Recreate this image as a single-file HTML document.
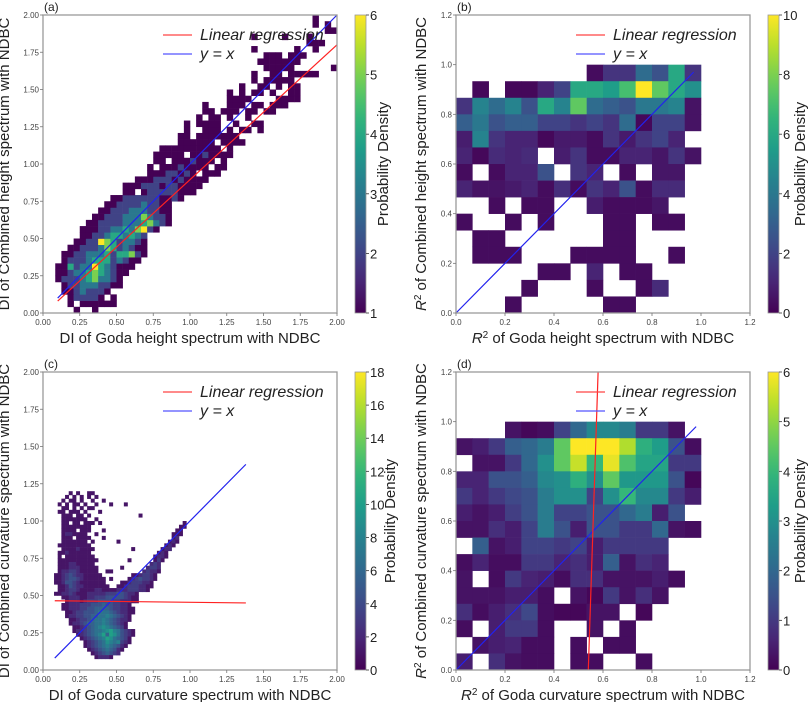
<!DOCTYPE html>
<html><head><meta charset="utf-8"><style>
html,body{margin:0;padding:0;background:#fff;}
svg{display:block;font-family:"Liberation Sans",sans-serif;}
</style></head><body>
<svg id="fig" width="809" height="702" viewBox="0 0 809 702" xmlns="http://www.w3.org/2000/svg"></svg>
<script>
// ---------- DATA ----------
// panel (a): DI height histogram, bin = 2/48, rows from bottom, "startCol:densities" (1..6, '.'=empty)
const rowsA = ["5:1 8:1","4:1 6:111111","4:122221 11:1","3:11232221","3:1223332211","2:12223453321","2:112334543211","2:1142336432111","3:1222344423211","3:11223334244521","4:1122235423211","5:112265423321","6:11223443432","6:1112233435621","7:11222233345321","8:1122233353221","9:112223332211","10:11222232211","11:112222221121","13:11.122222111","13:1112221221111","15:111222121111","17:11122121.111","17:1.11121111.11","18:11.1112111.1","18:11111.1121111","19:1111111111.1","22:111111.1111","22:11.1111111","23:1..111.1.11.1","23:1.1111..1..11","25:1.11.1..1","26:11.111.11.11","26:1...111.11.111","30:1111....1111","30:1.1.11.1..11","32:1..11.1.11","34:1.11111","34:1..11.11111","36:11111 47:1","35:1111111","36:111.111","34:1 41:1 44:1","43:111","34:1 39:1 43:1","46:11","44:1 46:1","44:1"];
// panel (c): DI curvature histogram, bin = 0.025, density digits, keyed by row index
const rowIdxC = [47,46,45,44,43,42,41,40,39,38,37,36,35,34,33,32,31,30,29,28,27,26,25,24,23,22,21,20,19,18,17,16,15,14,13,12,11,10,9,8,7,6,5,4,3];
const rowsC = ["7:1 9:1 12:11","6:1 8:1 10:1 12:1 14:1","5:1 7:11 10:1 13:1 16:1","4:1 6:1 8:11 11:1 14:1 18:1 22:1","5:11 8:1 10:1 12:11","4:11 7:111 11:1 15:1","5:111 9:11 12:1 26:1","5:1111111 14:1","5:11 8:11 11:111 15:1 38:1","5:11111111 37:11","5:1111 10:111 16:1 36:11","5:1221111 14:1 35:111","5:111 9:1111 16:1 35:12","5:1111111 13:1 20:1 34:121","4:111111111 33:121","5:111121111 24:1 32:122","4:112111111 31:121","4:1 6:11111111 30:1221","4:11111111111 23:1 30:131","4:1112211111 29:232","4:11122211111 21:1 28:2332","4:12233211111 17:11 27:23221","3:1123432211111 24:11 26:23321","3:11234432111111 18:1 23:12343321","3:11244321111111 21:112333221","4:11243221111111 20:1123332211","4:1123321111221111222333221","3:11223211122222333443221","5:112221122333444443211","6:12221233344443322211","5:1122233344454433221","5:11222334455554332211","6:1123344456665432211","6:122334455667654321","7:11233456676543221","7:1223455667654321","8:112345678765431","8:12234566789764321","9:1234567959864321","10:12345679865431","11:1234568767321","11:123456765421","12:1234565421","13:12345432","14:12221"];
// panel (b): R2 height histogram, 15x15, top row first, -1 = empty
const gridB = [
[-1,-1,-1,-1,-1,-1,-1,-1,0.3,1.5,1.5,3.5,2.5,6,1.5],
[-1,0.2,-1,0.2,0.2,1,2,6,6,5.5,7,10,7.5,6,5],
[1.5,4.5,3.5,4.5,2.5,6,4.5,7.5,3.5,3,2.5,4,4,4.5,0.5],
[3,4,2.5,3,3,2,2,1.5,2,1.5,3.5,0.2,2,2,0.5],
[0.8,4.5,1.5,1,1,0.2,0.7,0.7,0.3,1.5,0.7,1.5,2,1,-1],
[1,0.2,1.2,1,1.2,-1,0.8,1.5,0.3,0.3,1,1,0.6,1.5,0.5],
[0.3,-1,0.3,1,1,2.5,-1,1.5,1,-1,0.3,-1,0.6,0.6,-1],
[1,0.5,0.5,0.7,1,0.3,1.3,0.3,1.5,1,2.5,0.3,1.2,1.2,-1],
[-1,-1,0.3,-1,0.3,0.3,-1,-1,0.8,0.3,0.3,0.3,0.6,-1,-1],
[0.3,-1,-1,0.3,-1,0.3,-1,-1,-1,0.3,0.3,-1,0.3,0.3,-1],
[-1,0.3,0.3,-1,-1,-1,-1,-1,-1,0.3,0.3,-1,-1,-1,-1],
[-1,0.3,0.3,0.3,-1,-1,-1,0.3,0.3,0.3,0.3,-1,-1,0.3,-1],
[-1,-1,-1,-1,-1,0.3,0.3,-1,1,-1,0.3,0.3,-1,-1,-1],
[-1,-1,-1,-1,0.3,-1,-1,-1,0.3,-1,-1,0.3,1.2,-1,-1],
[-1,-1,-1,0.3,-1,-1,-1,-1,-1,0.3,0.3,-1,-1,-1,-1]];
// panel (d): R2 curvature histogram
const gridD = [
[-1,-1,-1,0.3,0.1,0.2,1.2,2,2.8,2.8,2.5,1,1,0.3,-1],
[0.3,0.5,1,1.8,2,2.5,4.5,6,6,6,5.3,3.8,3.3,1.5,0.2],
[-1,0.3,0.3,1,2,3,4.5,5.5,4,5.8,4.3,3.5,3.5,1,1],
[0.6,0.6,1.5,1.5,1.8,2.8,3,3.8,3,4.5,3.2,3.2,3.2,1.5,0.1],
[1,0.6,1,1.3,1.5,2.5,3,3,1.2,3,4,2.8,2.8,1,0.5],
[0.5,0.3,0.5,1.1,1.5,2.5,1.2,1.2,1.5,1.5,2,2.5,0.5,1.5,-1],
[0.3,0.3,0.8,0.5,1.2,2.5,1.5,0.5,1.5,1.5,1,1,2,0.3,0.2],
[-1,1.8,0.3,0.5,1.2,1.2,1,1.2,0.5,1,1,1,1,-1,-1],
[0.2,0.6,0.2,0.2,1,1,0.6,0.8,0.5,1.8,0.3,0.8,0.6,-1,-1],
[0.3,-1,0.2,1,0.6,0.5,0.2,0.8,0.8,0.3,0.3,0.3,0.5,0.2,-1],
[0.3,0.3,0.3,0.5,0.5,0.2,-1,0.3,0.1,1,0.3,0.8,0.3,-1,-1],
[0.8,0.2,0.5,0.8,1.3,0.2,0.1,0.1,0.3,0.3,-1,0.1,-1,-1,-1],
[0.2,-1,0.5,1,1,0.2,-1,-1,0.3,-1,0.2,-1,-1,-1,-1],
[-1,0.3,0.5,0.6,0.2,0.2,-1,0.2,-1,0.2,0.2,-1,-1,-1,-1],
[0.5,-1,0.8,0.3,0.2,0.2,-1,0.2,0.2,-1,-1,0.2,-1,-1,-1]];
const ticksDI = ["0.00","0.25","0.50","0.75","1.00","1.25","1.50","1.75","2.00"];
const ticksR2 = ["0.0","0.2","0.4","0.6","0.8","1.0","1.2"];
const cbTicksA = [1,2,3,4,5,6];
const cbTicksB = [0,2,4,6,8,10];
const cbTicksC = [0,2,4,6,8,10,12,14,16,18];
const cbTicksD = [0,1,2,3,4,5,6];
const regA = [[0.1,0.08],[2.0,1.8]];
const idA = [[0.1,0.1],[2.0,2.0]];
const idB = [[0,0],[0.97,0.97]];
const regC = [[0.08,0.465],[1.38,0.45]];
const idC = [[0.08,0.08],[1.38,1.38]];
const regD = [[0.54,0],[0.58,1.2]];
const idD = [[0,0],[0.98,0.98]];

// ---------- RENDER ----------
const NS="http://www.w3.org/2000/svg";
const svg=document.getElementById('fig');
function mk(tag,attrs,parent){const e=document.createElementNS(NS,tag);for(const k in attrs)e.setAttribute(k,attrs[k]);(parent||svg).appendChild(e);return e;}
const VIR=[[68,1,84],[72,40,120],[62,74,137],[49,104,142],[38,130,142],[31,158,137],[53,183,121],[109,205,89],[180,222,44],[253,231,37]];
function vir(t){t=Math.max(0,Math.min(1,t));const p=t*(VIR.length-1);const i=Math.min(VIR.length-2,Math.floor(p));const f=p-i;const a=VIR[i],b=VIR[i+1];return `rgb(${Math.round(a[0]+(b[0]-a[0])*f)},${Math.round(a[1]+(b[1]-a[1])*f)},${Math.round(a[2]+(b[2]-a[2])*f)})`;}

function panel(P){
  const g=mk('g',{});
  
  
  const sx=v=>P.x0+(v-P.min)/(P.max-P.min)*(P.x1-P.x0);
  const sy=v=>P.y0-(v-P.min)/(P.max-P.min)*(P.y0-P.y1);
  P.sx=sx;P.sy=sy;P.g=g;
  return P;
}
function cell(P,xa,xb,ya,yb,val,lo,hi){
  const x=P.sx(xa),x2=P.sx(xb),y=P.sy(yb),y2=P.sy(ya);
  const r=mk('rect',{x:x.toFixed(2),y:y.toFixed(2),width:(x2-x+0.3).toFixed(2),height:(y2-y+0.3).toFixed(2),fill:vir((val-lo)/(hi-lo))},P.g);
  
  
}
function segHist(P,rows,idx,bin,scale,base,lo,hi){
  rows.forEach((row,i)=>{
    const r=idx?idx[i]:i;
    row.split(' ').forEach(seg=>{
      const [s,chs]=seg.split(':');let c=+s;
      for(const ch of chs){ if(ch!=='.'){cell(P,c*bin,(c+1)*bin,r*bin,(r+1)*bin,base+((+ch)-1)*scale,lo,hi);} c++; }
    });
  });
}
function gridHist(P,grid,hi){
  const n=grid.length,bin=1/15;
  grid.forEach((row,ti)=>{const r=n-1-ti;row.forEach((v,c)=>{if(v>=0)cell(P,c*bin,(c+1)*bin,r*bin,(r+1)*bin,v,0,hi);});});
}
function line(P,pts,color,name){
  const l=mk('line',{x1:P.sx(pts[0][0]),y1:P.sy(pts[0][1]),x2:P.sx(pts[1][0]),y2:P.sy(pts[1][1]),stroke:color,'stroke-width':1.2},P.g);
  
  
}
function axes(P,ticks,xlabel,ylabel,letter,ylx){
  const fr=mk('rect',{x:P.x0,y:P.y1,width:P.x1-P.x0,height:P.y0-P.y1,fill:'none',stroke:'#9a9a9a','stroke-width':1.3},P.g);
  
  
  const step=(P.max-P.min)/(ticks.length-1);
  ticks.forEach((t,i)=>{
    const v=P.min+i*step,x=P.sx(v),y=P.sy(v);
    mk('line',{x1:x,y1:P.y0,x2:x,y2:P.y0+3,stroke:'#777','stroke-width':0.8},P.g);
    mk('line',{x1:P.x0-3,y1:y,x2:P.x0,y2:y,stroke:'#777','stroke-width':0.8},P.g);
    const tx=mk('text',{x:x,y:P.y0+12,'font-size':8,'text-anchor':'middle',fill:'#444'},P.g);tx.textContent=t;
    
    
    const ty=mk('text',{x:P.x0-4,y:y+3,'font-size':8,'text-anchor':'end',fill:'#444'},P.g);ty.textContent=t;
    
    
  });
  const xl=mk('text',{x:(P.x0+P.x1)/2,y:P.y0+30,'font-size':15,'text-anchor':'middle',fill:'#222'},P.g);xl.innerHTML=xlabel;
  
  
  const cy=(P.y0+P.y1)/2;
  const yl=mk('text',{x:ylx,y:cy,'font-size':15,'text-anchor':'middle',fill:'#222',transform:`rotate(-90 ${ylx} ${cy})`},P.g);yl.innerHTML=ylabel;
  
  
  const pl=mk('text',{x:P.x0+1,y:P.y1-4,'font-size':12,fill:'#222'},P.g);pl.textContent=letter;
  
  
  const lg=mk('g',{},P.g);
  
  
  const lx=P.x0+120,ly=P.y1+20;
  mk('line',{x1:lx,y1:ly,x2:lx+29,y2:ly,stroke:'#ff4444','stroke-width':1.2},lg);
  const t1=mk('text',{x:lx+37,y:ly+5,'font-size':16,'font-style':'italic',fill:'#222'},lg);t1.textContent='Linear  regression';
  
  
  mk('line',{x1:lx,y1:ly+19,x2:lx+29,y2:ly+19,stroke:'#5555ff','stroke-width':1.2},lg);
  const t2=mk('text',{x:lx+37,y:ly+24,'font-size':16,'font-style':'italic',fill:'#222'},lg);t2.textContent='y = x';
  
  
}
function colorbar(P,cx,ticks,labx){
  const g=mk('g',{});
  
  
  const id='grad'+P.letter;
  const defs=mk('defs',{},g);const lgd=mk('linearGradient',{id:id,x1:0,y1:1,x2:0,y2:0},defs);
  for(let i=0;i<=20;i++)mk('stop',{offset:i/20,'stop-color':vir(i/20)},lgd);
  mk('rect',{x:cx,y:P.y1,width:11,height:P.y0-P.y1,fill:`url(#${id})`,stroke:'#9a9a9a','stroke-width':0.8},g);
  const lo=ticks[0],hi=ticks[ticks.length-1];
  ticks.forEach(t=>{
    const y=P.y0-(t-lo)/(hi-lo)*(P.y0-P.y1);
    mk('line',{x1:cx+11,y1:y,x2:cx+14,y2:y,stroke:'#333','stroke-width':0.8},g);
    const tx=mk('text',{x:cx+15,y:y+5,'font-size':13,fill:'#222'},g);tx.textContent=t;
    
    
  });
  const cy=(P.y0+P.y1)/2,lx=labx;
  const lab=mk('text',{x:lx,y:cy,'font-size':15,'text-anchor':'middle',fill:'#222',transform:`rotate(-90 ${lx} ${cy})`},g);lab.textContent='Probability Density';
  
  
}
const A=panel({name:'panel-a',letter:'a',x0:43,x1:337,y0:313,y1:15,min:0,max:2});
segHist(A,rowsA,null,2/48,1,1,1,6);
line(A,idA,'#2222ee','identity-line');line(A,regA,'#ff2222','regression-line');
axes(A,ticksDI,'DI of Goda height spectrum with NDBC','DI of Combined height spectrum with NDBC','(a)',9);
colorbar(A,355,cbTicksA,388);

const B=panel({name:'panel-b',letter:'b',x0:456,x1:750,y0:313,y1:15,min:0,max:1.2});
gridHist(B,gridB,10);
line(B,idB,'#2222ee','identity-line');
axes(B,ticksR2,'<tspan font-style="italic">R</tspan><tspan dy="-5" font-size="10">2</tspan><tspan dy="5"> of Goda height spectrum with NDBC</tspan>','<tspan font-style="italic">R</tspan><tspan dy="-5" font-size="10">2</tspan><tspan dy="5"> of Combined height spectrum with NDBC</tspan>','(b)',426);
colorbar(B,768,cbTicksB,805);

const C=panel({name:'panel-c',letter:'c',x0:43,x1:337,y0:670,y1:372,min:0,max:2});
segHist(C,rowsC,rowIdxC,0.025,1.15,1,0,18);
line(C,idC,'#2222ee','identity-line');line(C,regC,'#ff2222','regression-line');
axes(C,ticksDI,'DI of Goda curvature spectrum with NDBC','DI of Combined curvature spectrum with NDBC','(c)',9);
colorbar(C,355,cbTicksC,395);

const D=panel({name:'panel-d',letter:'d',x0:456,x1:750,y0:670,y1:372,min:0,max:1.2});
gridHist(D,gridD,6);
line(D,idD,'#2222ee','identity-line');line(D,regD,'#ff2222','regression-line');
axes(D,ticksR2,'<tspan font-style="italic">R</tspan><tspan dy="-5" font-size="10">2</tspan><tspan dy="5"> of Goda curvature spectrum with NDBC</tspan>','<tspan font-style="italic">R</tspan><tspan dy="-5" font-size="10">2</tspan><tspan dy="5"> of Combined curvature spectrum with NDBC</tspan>','(d)',426);
colorbar(D,768,cbTicksD,805);
</script>
</body></html>
